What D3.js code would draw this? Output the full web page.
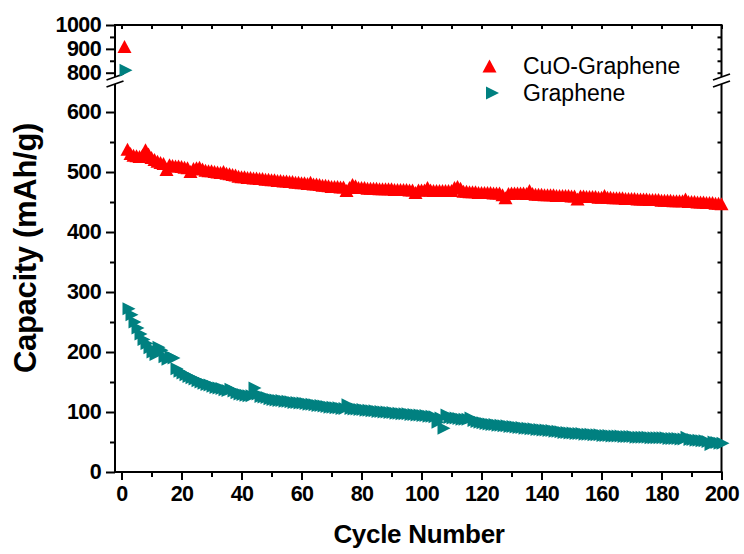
<!DOCTYPE html>
<html>
<head>
<meta charset="utf-8">
<script src="https://cdn.jsdelivr.net/npm/d3@7"></script>
<style>
  html, body { margin: 0; padding: 0; background: #fff; }
  svg { display: block; font-family: "Liberation Sans", Arial, sans-serif; }
</style>
</head>
<body>
<svg id="chart" width="744" height="554"></svg>
<script>
// ---- data ----
const seriesNames = ["CuO-Graphene", "Graphene"];
const seriesColors = ["#ff0000", "#008080"];
const cycles = d3.range(1, 201);
const cuoGraphene = [
  910,
  538, 531, 528, 527, 526, 528, 537, 530, 524,
  521, 518, 516, 514, 504, 512, 511, 510, 510, 509,
  508, 507, 501, 506, 507, 508, 505, 503, 502, 502,
  501, 500, 499, 501, 498, 497, 496, 495, 493, 492,
  492, 491, 491, 490, 490, 489, 489, 488, 488, 487,
  487, 486, 486, 485, 485, 484, 484, 483, 483, 482,
  482, 481, 483, 480, 480, 479, 478, 478, 477, 476,
  476, 476, 475, 475, 469, 474, 479, 477, 474, 474,
  474, 473, 473, 473, 473, 472, 472, 472, 472, 472,
  471, 471, 471, 471, 471, 470, 470, 466, 470, 470,
  470, 474, 470, 469, 469, 469, 469, 469, 469, 469,
  474, 476, 473, 468, 468, 467, 467, 467, 466, 466,
  466, 466, 466, 465, 465, 465, 462, 457, 464, 465,
  465, 465, 465, 465, 464, 469, 464, 463, 463, 463,
  462, 462, 462, 462, 461, 461, 461, 461, 461, 460,
  460, 455, 460, 460, 459, 459, 459, 459, 458, 458,
  461, 458, 458, 457, 457, 457, 457, 456, 456, 456,
  456, 455, 455, 455, 455, 454, 454, 454, 454, 453,
  453, 453, 453, 452, 452, 452, 452, 455, 451, 451,
  451, 450, 450, 450, 449, 449, 449, 448, 448, 447
];
const graphene = [
  810,
  272, 262, 250, 240, 230, 221, 214, 207, 200,
  196, 208, 203, 192, 188, 192, 190, 172, 168, 165,
  162, 159, 157, 155, 152, 150, 148, 146, 145, 143,
  141, 140, 139, 137, 136, 138, 135, 132, 130, 129,
  128, 127, 127, 140, 130, 126, 125, 124, 122, 121,
  120, 119, 119, 118, 118, 117, 116, 116, 115, 115,
  114, 113, 113, 112, 111, 111, 110, 109, 108, 108,
  107, 107, 106, 106, 112, 106, 105, 105, 104, 104,
  103, 103, 102, 102, 101, 101, 100, 100, 99, 99,
  98, 98, 97, 97, 97, 96, 96, 95, 95, 94,
  94, 93, 93, 92, 83, 90, 73, 95, 91, 90,
  90, 89, 88, 88, 88, 90, 86, 84, 83, 82,
  81, 80, 79, 79, 78, 78, 77, 77, 76, 76,
  75, 74, 74, 73, 73, 72, 72, 71, 71, 70,
  70, 69, 69, 68, 68, 67, 66, 66, 65, 65,
  64, 64, 64, 63, 63, 63, 62, 62, 62, 61,
  61, 61, 60, 60, 60, 60, 59, 59, 59, 59,
  58, 58, 58, 58, 58, 57, 57, 57, 57, 57,
  57, 56, 56, 56, 56, 55, 55, 58, 54, 54,
  53, 53, 52, 52, 51, 46, 50, 49, 48, 48
];
const xTicks = [0, 20, 40, 60, 80, 100, 120, 140, 160, 180, 200];
const xMinorTicks = [10, 30, 50, 70, 90, 110, 130, 150, 170, 190];
const yLowTicks = [0, 100, 200, 300, 400, 500, 600];
const yLowMinor = [50, 150, 250, 350, 450, 550];
const yHighTicks = [800, 900, 1000];
const yHighMinor = [850, 950];
const xTitle = "Cycle Number";
const yTitle = "Capacity (mAh/g)";

// ---- layout ----
const svg = d3.select("#chart");
const L = 115, R = 721.5, T = 25, B = 472;
const breakLowTop = 84, breakHighBottom = 77;
const x = d3.scaleLinear().domain([0, 200]).range([121.5, 721.5]);
const yLow = d3.scaleLinear().domain([0, 646.7]).range([B, breakLowTop]);
const yHigh = d3.scaleLinear().domain([782, 1000]).range([breakHighBottom, T]);
const y = v => (v > 700 ? yHigh(v) : yLow(v));

function styleAxis(g, showText) {
  g.select(".domain").remove();
  g.selectAll(".tick line").attr("stroke", "#000").attr("stroke-width", 2);
  if (showText) {
    g.selectAll(".tick text")
      .attr("font-size", "21.5px").attr("font-weight", "bold").attr("letter-spacing", "-0.6px")
      .attr("font-family", "'Liberation Sans', Arial, sans-serif").attr("fill", "#000");
  } else {
    g.selectAll(".tick text").remove();
  }
}

// frame lines
const frame = svg.append("g").attr("stroke", "#000").attr("stroke-width", 2).attr("fill", "none");
frame.append("line").attr("x1", L - 1).attr("x2", R + 1).attr("y1", T).attr("y2", T);
frame.append("line").attr("x1", L - 1).attr("x2", R + 1).attr("y1", B).attr("y2", B);
[L, R].forEach(xx => {
  frame.append("line").attr("x1", xx).attr("x2", xx).attr("y1", T).attr("y2", breakHighBottom);
  frame.append("line").attr("x1", xx).attr("x2", xx).attr("y1", breakLowTop).attr("y2", B);
  // break slashes
  frame.append("line").attr("x1", xx - 8.5).attr("y1", breakHighBottom + 3).attr("x2", xx + 8.5).attr("y2", breakHighBottom - 3).attr("stroke-width", 1.8);
  frame.append("line").attr("x1", xx - 8.5).attr("y1", breakLowTop + 3).attr("x2", xx + 8.5).attr("y2", breakLowTop - 3).attr("stroke-width", 1.8);
});

// bottom axis
svg.append("g").attr("transform", `translate(0,${B})`)
  .call(d3.axisBottom(x).tickValues(xTicks).tickSize(8).tickPadding(6).tickFormat(d3.format("d")))
  .call(g => styleAxis(g, true));
svg.append("g").attr("transform", `translate(0,${B})`)
  .call(d3.axisBottom(x).tickValues(xMinorTicks).tickSize(5))
  .call(g => styleAxis(g, false));
// top axis (inward ticks)
svg.append("g").attr("transform", `translate(0,${T})`)
  .call(d3.axisBottom(x).tickValues(xTicks.concat(xMinorTicks)).tickSize(4))
  .call(g => styleAxis(g, false));

// left axis, lower segment
svg.append("g").attr("transform", `translate(${L},0)`)
  .call(d3.axisLeft(yLow).tickValues(yLowTicks).tickSize(9).tickPadding(5).tickFormat(d3.format("d")))
  .call(g => styleAxis(g, true));
svg.append("g").attr("transform", `translate(${L},0)`)
  .call(d3.axisLeft(yLow).tickValues(yLowMinor).tickSize(5))
  .call(g => styleAxis(g, false));
// left axis, upper segment
svg.append("g").attr("transform", `translate(${L},0)`)
  .call(d3.axisLeft(yHigh).tickValues(yHighTicks).tickSize(9).tickPadding(5).tickFormat(d3.format("d")))
  .call(g => styleAxis(g, true));
svg.append("g").attr("transform", `translate(${L},0)`)
  .call(d3.axisLeft(yHigh).tickValues(yHighMinor).tickSize(5))
  .call(g => styleAxis(g, false));
// right axis (inward ticks)
svg.append("g").attr("transform", `translate(${R},0)`)
  .call(d3.axisRight(yLow).tickValues(yLowTicks.concat(yLowMinor).filter(v => v > 0)).tickSize(-4))
  .call(g => styleAxis(g, false));
svg.append("g").attr("transform", `translate(${R},0)`)
  .call(d3.axisRight(yHigh).tickValues([800, 850, 900, 950]).tickSize(-4))
  .call(g => styleAxis(g, false));

// markers
const triUp = "M0,-6.5L7,6.5L-7,6.5Z";
const triRight = "M-5,-6.5L8,0L-5,6.5Z";
const shapes = [triUp, triRight];
const seriesData = [cuoGraphene, graphene];
seriesData.forEach((vals, si) => {
  svg.append("g").selectAll("path")
    .data(cycles.map((c, i) => ({ c, v: vals[i] })))
    .join("path")
    .attr("d", shapes[si])
    .attr("transform", d => `translate(${x(d.c)},${y(d.v)})`)
    .attr("fill", seriesColors[si]);
});

// legend
const legendY = [66, 93];
const legend = svg.append("g");
seriesNames.forEach((name, i) => {
  legend.append("path").attr("d", shapes[i])
    .attr("transform", `translate(${i === 0 ? 489.5 : 491}, ${legendY[i]})`)
    .attr("fill", seriesColors[i]);
  legend.append("text").attr("x", 523).attr("y", legendY[i] + 8)
    .attr("font-size", "23px").attr("fill", "#000").text(name);
});

// titles
svg.append("text").attr("x", 419).attr("y", 543).attr("text-anchor", "middle")
  .attr("font-size", "26px").attr("font-weight", "bold").attr("letter-spacing", "-0.3px")
  .text(xTitle);
svg.append("text").attr("transform", "translate(36,248) rotate(-90)").attr("text-anchor", "middle")
  .attr("font-size", "31px").attr("font-weight", "bold").attr("letter-spacing", "-0.3px")
  .text(yTitle);
</script>
</body>
</html>
